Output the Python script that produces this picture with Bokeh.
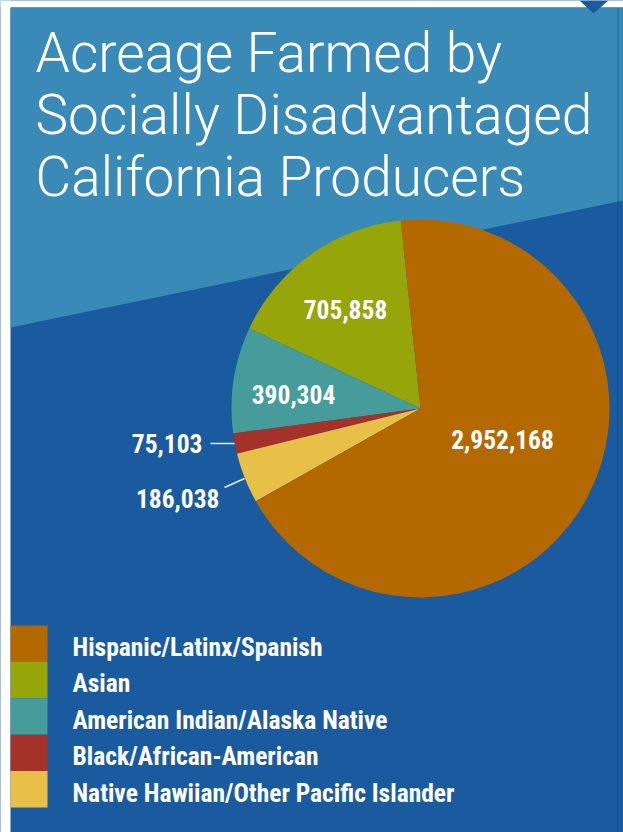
import math
from bokeh.plotting import figure
from bokeh.models import Range1d, ColumnDataSource
from bokeh.core.properties import value
from bokeh.embed import file_html
from bokeh.resources import INLINE

# ---------------- data ----------------
categories = ["Hispanic/Latinx/Spanish", "Asian", "American Indian/Alaska Native",
              "Black/African-American", "Native Hawiian/Other Pacific Islander"]
acres = [2952168, 705858, 390304, 75103, 186038]
value_labels = ["2,952,168", "705,858", "390,304", "75,103", "186,038"]
colors = ["#b46900", "#96a50a", "#469b9b", "#a53228", "#e8c048"]
title_lines = ["Acreage Farmed by", "Socially Disadvantaged", "California Producers"]

# ---------------- layout (page pixels) ----------------
W, H = 623, 832
def X(sx):  # page x -> data x
    return sx
def Y(sy):  # page y -> data y
    return H - sy

LIGHT = "#3a8ab7"
DARK = "#1a5ba0"
COND = value("'Roboto Condensed', 'Open Sans Condensed', 'Liberation Sans Narrow', 'DejaVu Sans Condensed', sans-serif")
LIGHTFONT = value("'Roboto Light', 'Lato Light', Roboto, 'Liberation Sans', sans-serif")

p = figure(width=W, height=H, output_backend="svg", toolbar_location=None,
           x_range=Range1d(0, W), y_range=Range1d(0, H),
           min_border=0, background_fill_color=DARK, border_fill_color="white")
p.axis.visible = False
p.grid.visible = False
p.outline_line_color = None

# white page edges (top strip and left strip)
p.quad(left=[0, 0], right=[W, 10], top=[H, H], bottom=[Y(7), 0],
       fill_color="white", line_color=None)
# light diagonal band at top
p.patch([X(10), X(623), X(623), X(10)], [Y(7), Y(7), Y(200), Y(327)],
        fill_color=LIGHT, line_color=None)
# faint edge shading on the right
p.segment(x0=[X(617.5)], y0=[Y(7)], x1=[X(617.5)], y1=[Y(832)],
          line_color="#0f3f78", line_alpha=0.35, line_width=1.5)
# small marker triangle at top right
p.patch([X(579), X(608), X(593)], [Y(0), Y(0), Y(13)], fill_color=DARK, line_color=None)

# title (vertical centre of capitals)
for i, line in enumerate(title_lines):
    p.text(x=[X(35)], y=[Y(52 + 62 * i)], text=[line], text_font=LIGHTFONT,
           text_font_size="55px", text_color="white", text_align="left",
           text_baseline="middle")

# pie: anticlockwise from near top: Asian, AmInd, Black, NH, Hispanic
order = [1, 2, 3, 4, 0]
total = float(sum(acres))
start0 = math.radians(96.0)
starts, ends, cols = [], [], []
cum = 0.0
for idx in order:
    a0 = start0 + 2 * math.pi * cum / total
    cum += acres[idx]
    a1 = start0 + 2 * math.pi * cum / total
    starts.append(a0)
    ends.append(a1)
    cols.append(colors[idx])
cx, cy, r = X(420), Y(408), 189
src = ColumnDataSource(dict(x=[cx] * 5, y=[cy] * 5, s=starts, e=ends, c=cols))
p.wedge(x="x", y="y", radius=r, start_angle="s", end_angle="e", direction="anticlock",
        fill_color="c", line_color=None, source=src)

# value labels
lab_pos = {0: (502, 439, "center"), 1: (345, 309, "center"), 2: (293, 394, "center"),
           3: (202, 443, "right"), 4: (219, 498, "right")}
for idx, (lx, ly, al) in lab_pos.items():
    p.text(x=[X(lx)], y=[Y(ly)], text=[value_labels[idx]], text_font=COND,
           text_font_size="25.5px", text_font_style="bold", text_color="white",
           text_align=al, text_baseline="middle")

# leader lines
p.segment(x0=[X(210), X(224)], y0=[Y(443), Y(487)], x1=[X(234), X(244)], y1=[Y(443), Y(478)],
          line_color="#e8eef5", line_width=1.5)

# legend
top0, rowh = 625, 36.4
lx0, lx1 = X(10), X(47)
tops = [Y(top0 + rowh * i) for i in range(len(categories))]
bots = [Y(top0 + rowh * (i + 1)) for i in range(len(categories))]
p.quad(left=[lx0] * 5, right=[lx1] * 5, top=tops, bottom=bots, fill_color=colors, line_color=None)
p.text(x=[X(72)] * 5, y=[Y(top0 + 21.5 + rowh * i) for i in range(5)], text=categories,
       text_font=COND, text_font_size="25.5px", text_font_style="bold", text_color="white",
       text_align="left", text_baseline="middle")

open("out.html", "w").write(file_html(p, INLINE))
